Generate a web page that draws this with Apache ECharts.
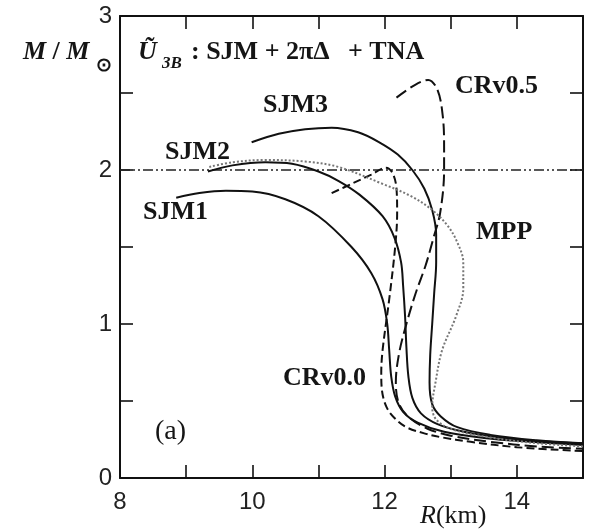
<!DOCTYPE html>
<html><head><meta charset="utf-8">
<script src="https://cdn.jsdelivr.net/npm/echarts/dist/echarts.min.js"></script>
<style>html,body{margin:0;padding:0;background:#fff}#c{width:591px;height:531px}</style>
</head><body><div id="c"></div><script>
// ---- data (R in km, M in solar masses) ----
const xTickLabels = [8, 10, 12, 14];
const yTickLabels = [0, 1, 2, 3];
const LIMIT_M = 2.0;
const SJM1 = [[8.85,1.82],[9.2,1.85],[9.6,1.865],[10.0,1.86],[10.5,1.81],[11.0,1.70],[11.5,1.50],[11.8,1.33],[11.97,1.16],[12.04,1.0],[12.07,0.83],[12.1,0.66],[12.16,0.53],[12.28,0.43],[12.5,0.36],[12.9,0.30],[13.5,0.26],[14.2,0.235],[15.0,0.215]];
const SJM2 = [[9.33,1.99],[9.7,2.03],[10.2,2.05],[10.6,2.04],[11.0,1.99],[11.3,1.93],[11.62,1.84],[11.97,1.70],[12.15,1.56],[12.25,1.40],[12.28,1.25],[12.31,1.05],[12.33,0.85],[12.36,0.66],[12.42,0.52],[12.55,0.42],[12.8,0.35],[13.2,0.30],[13.8,0.26],[14.5,0.235],[15.0,0.225]];
const SJM3 = [[9.99,2.18],[10.4,2.235],[10.8,2.265],[11.2,2.275],[11.6,2.245],[11.92,2.18],[12.2,2.10],[12.42,2.0],[12.6,1.88],[12.72,1.74],[12.78,1.58],[12.78,1.4],[12.75,1.2],[12.72,1.0],[12.69,0.8],[12.68,0.62],[12.72,0.48],[12.85,0.40],[13.1,0.33],[13.6,0.28],[14.3,0.245],[15.0,0.225]];
const CRV05 = [[12.18,2.47],[12.45,2.55],[12.66,2.585],[12.8,2.52],[12.88,2.35],[12.9,2.15],[12.9,2.0],[12.84,1.72],[12.74,1.56],[12.62,1.38],[12.47,1.2],[12.33,1.0],[12.22,0.81],[12.17,0.62],[12.22,0.48],[12.38,0.39],[12.65,0.32],[13.0,0.275],[13.6,0.235],[14.3,0.205],[15.0,0.19]];
const CRV00 = [[11.2,1.85],[11.5,1.91],[11.8,1.97],[12.02,2.015],[12.12,1.98],[12.18,1.88],[12.19,1.72],[12.16,1.5],[12.07,1.16],[11.97,0.83],[11.95,0.68],[11.96,0.57],[12.03,0.46],[12.15,0.39],[12.33,0.33],[12.6,0.29],[12.85,0.265],[13.3,0.235],[14.0,0.2],[15.0,0.175]];
const MPP = [[9.35,2.02],[9.7,2.05],[10.2,2.065],[10.8,2.055],[11.3,2.02],[11.97,1.91],[12.4,1.83],[12.72,1.74],[12.95,1.64],[13.1,1.53],[13.19,1.40],[13.19,1.23],[13.08,1.05],[12.87,0.83],[12.77,0.62],[12.72,0.46],[12.78,0.38],[13.0,0.32],[13.5,0.27],[14.2,0.23],[15.0,0.205]];

const chart = echarts.init(document.getElementById('c'), null, {renderer:'canvas'});
const serif = '"Liberation Serif","Times New Roman",serif';
const sans = '"Liberation Sans",Arial,sans-serif';
const ink = '#151515';

function curve(name, data, style){
  return {name, type:'line', data, showSymbol:false, smooth:0.35, clip:true,
    lineStyle:Object.assign({color:'#111', width:2}, style), z:3, animation:false};
}
const axisCommon = {
  type:'value', splitLine:{show:false},
  axisLine:{show:true, onZero:false, lineStyle:{color:'#111', width:2}},
  axisTick:{show:true, inside:true, length:13, lineStyle:{color:'#111', width:1.6}}
};
function txt(x, y, text, font, extra){
  return Object.assign({type:'text', x, y, z:10,
    style:{text, font, fill:ink, verticalAlign:'middle', align:'left'}}, extra||{});
}
const option = {
  backgroundColor:'#fff',
  animation:false,
  grid:{left:120, right:8, top:16, bottom:53},
  xAxis:[
    Object.assign({}, axisCommon, {min:8, max:15, interval:1, position:'bottom',
      axisLabel:{margin:12, color:'#222', fontFamily:sans, fontSize:24,
        showMinLabel:true, showMaxLabel:false,
        formatter:v => xTickLabels.includes(v) ? String(v) : ''}}),
    Object.assign({}, axisCommon, {min:8, max:15, interval:1, position:'top', axisLabel:{show:false}})
  ],
  yAxis:[
    Object.assign({}, axisCommon, {min:0, max:3, interval:0.5, position:'left',
      axisLabel:{margin:8, color:'#222', fontFamily:sans, fontSize:24,
        showMinLabel:true, showMaxLabel:true,
        formatter:v => yTickLabels.includes(v) ? String(v) : ''}}),
    Object.assign({}, axisCommon, {min:0, max:3, interval:0.5, position:'right', axisLabel:{show:false}})
  ],
  series:[
    {type:'line', data:[[8,LIMIT_M],[15,LIMIT_M]], showSymbol:false, z:2,
      lineStyle:{color:'#222', width:1.5, type:[10,3,2,3,2,3]}},
    curve('SJM1', SJM1, {}),
    curve('SJM2', SJM2, {}),
    curve('SJM3', SJM3, {}),
    curve('CRv0.5', CRV05, {type:[12,5]}),
    curve('CRv0.0', CRV00, {type:[8,4]}),
    curve('MPP', MPP, {color:'#777', type:[2,2], width:2})
  ],
  graphic:[
    txt(23, 52, '{i|M} / {i|M}', 'bold 26px '+serif, {style:{text:'{i|M} / {i|M}', font:'bold 26px '+serif, fill:ink, verticalAlign:'middle', rich:{i:{font:'italic bold 26px '+serif, fill:ink}}}}),
    txt(96, 66, '⊙', 'bold 19px '+serif),
    txt(138, 52, 'Ũ', 'italic bold 26px '+serif),
    txt(162, 64, '3B', 'italic bold 17px '+serif),
    txt(191, 52, ': SJM + 2πΔ', 'bold 26px '+serif),
    txt(348, 52, '+ TNA', 'bold 26px '+serif),
    txt(455, 86, 'CRv0.5', 'bold 26px '+serif),
    txt(263, 105, 'SJM3', 'bold 26px '+serif),
    txt(165, 152, 'SJM2', 'bold 26px '+serif),
    txt(143, 212, 'SJM1', 'bold 26px '+serif),
    txt(476, 232, 'MPP', 'bold 26px '+serif),
    txt(283, 378, 'CRv0.0', 'bold 26px '+serif),
    txt(155, 432, '(a)', '28px '+serif),
    {type:'text', x:420, y:516, z:10, style:{text:'{i|R}(km)', font:'26px '+serif, fill:ink, verticalAlign:'middle', rich:{i:{font:'italic 26px '+serif, fill:ink}}}}
  ]
};
chart.setOption(option);
</script></body></html>
